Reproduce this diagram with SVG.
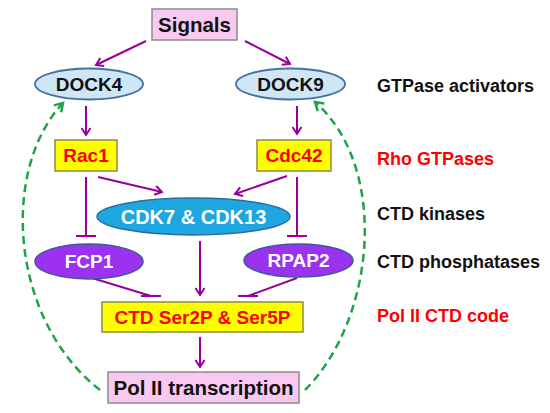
<svg xmlns="http://www.w3.org/2000/svg" width="550" height="413" viewBox="0 0 550 413">
<defs>
<marker id="ap" markerWidth="12" markerHeight="12" refX="10" refY="6" orient="auto" markerUnits="userSpaceOnUse">
<path d="M3,1.5 L10,6 L3,10.5" fill="none" stroke="#990099" stroke-width="2"/>
</marker>
<marker id="ag" markerWidth="14" markerHeight="14" refX="11" refY="7" orient="auto" markerUnits="userSpaceOnUse">
<path d="M3,2 L11,7 L3,12" fill="none" stroke="#1fa34a" stroke-width="2.5"/>
</marker>
<style>
text{font-family:"Liberation Sans",Arial,sans-serif;font-weight:bold;text-anchor:middle}
.lbl{text-anchor:start;font-size:18px}
.pink{fill:#f9c9f2;stroke:#8a8a8a;stroke-width:1.5}
.yel{fill:#ffff00;stroke:#8c8c46;stroke-width:1.5}
.dock{fill:#cfe6f7;stroke:#44729e;stroke-width:1.8}
.cdk{fill:#1ea6e0;stroke:#2e6da0;stroke-width:1.5}
.pp{fill:#9b32f0;stroke:#3d5a9a;stroke-width:1.5}
.act{stroke:#990099;stroke-width:2;fill:none;marker-end:url(#ap)}
.inh{stroke:#990099;stroke-width:2;fill:none}
.fb{stroke:#1fa34a;stroke-width:2.5;fill:none;stroke-dasharray:8 5;marker-end:url(#ag)}
</style>
</defs>
<rect width="550" height="413" fill="#ffffff"/>
<g id="connectors">
<line class="act" x1="146" y1="41" x2="96" y2="65"/>
<line class="act" x1="245" y1="41" x2="290" y2="64"/>
<line class="act" x1="86" y1="106" x2="86" y2="135"/>
<line class="act" x1="297" y1="106" x2="297" y2="134"/>
<line class="act" x1="98" y1="177" x2="162" y2="192"/>
<line class="act" x1="287" y1="176" x2="235" y2="194"/>
<line class="inh" x1="86" y1="177" x2="86" y2="236"/>
<line class="inh" x1="76" y1="236" x2="96" y2="236"/>
<line class="inh" x1="297" y1="177" x2="297" y2="236"/>
<line class="inh" x1="287" y1="236" x2="307" y2="236"/>
<line class="act" x1="200" y1="241" x2="200" y2="295"/>
<line class="inh" x1="92" y1="278" x2="151" y2="296"/>
<line class="inh" x1="141" y1="296" x2="161" y2="296"/>
<line class="inh" x1="297" y1="278" x2="248" y2="296"/>
<line class="inh" x1="238" y1="296" x2="258" y2="296"/>
<line class="act" x1="200" y1="337" x2="200" y2="367"/>
<path class="fb" d="M100,390 C10,320 0,170 63,103"/>
<path class="fb" d="M305,390 C375,320 390,168 315,102"/>
</g>
<g id="signals">
<rect class="pink" x="152" y="9" width="85" height="31"/>
<text x="194.5" y="32" font-size="20.5" fill="#111">Signals</text>
</g>
<g id="dock4">
<ellipse class="dock" cx="89" cy="84" rx="54" ry="15.5"/>
<text x="89" y="91" font-size="19" fill="#111">DOCK4</text>
</g>
<g id="dock9">
<ellipse class="dock" cx="290.5" cy="84" rx="54.5" ry="15.5"/>
<text x="290.5" y="91" font-size="19" fill="#111">DOCK9</text>
</g>
<g id="rac1">
<rect class="yel" x="55" y="140" width="62" height="31"/>
<text x="86" y="162.3" font-size="19" fill="#ff0000">Rac1</text>
</g>
<g id="cdc42">
<rect class="yel" x="257" y="140" width="74" height="31"/>
<text x="294" y="162.3" font-size="19" fill="#ff0000">Cdc42</text>
</g>
<g id="cdk">
<ellipse class="cdk" cx="193.5" cy="216.5" rx="96.5" ry="18.5"/>
<text x="193.5" y="223.7" font-size="20" fill="#ffffff">CDK7 &amp; CDK13</text>
</g>
<g id="fcp1">
<ellipse class="pp" cx="89" cy="261.5" rx="54" ry="17.5"/>
<text x="89" y="268.3" font-size="19" fill="#ffffff">FCP1</text>
</g>
<g id="rpap2">
<ellipse class="pp" cx="298.5" cy="260.5" rx="54.5" ry="16.5"/>
<text x="298.5" y="267.3" font-size="19" fill="#ffffff">RPAP2</text>
</g>
<g id="ctd">
<rect class="yel" x="102" y="302" width="201" height="30"/>
<text x="202.5" y="323.8" font-size="19" fill="#ff0000">CTD Ser2P &amp; Ser5P</text>
</g>
<g id="polii">
<rect class="pink" x="108" y="372" width="191" height="31"/>
<text x="203.5" y="395" font-size="20.5" fill="#111">Pol II transcription</text>
</g>
<g id="labels">
<text class="lbl" x="377" y="91.5" fill="#111">GTPase activators</text>
<text class="lbl" x="377" y="164.5" fill="#ff0000">Rho GTPases</text>
<text class="lbl" x="377" y="219.5" fill="#111">CTD kinases</text>
<text class="lbl" x="377" y="267.5" fill="#111">CTD phosphatases</text>
<text class="lbl" x="377" y="321.5" fill="#ff0000">Pol II CTD code</text>
</g>
</svg>
